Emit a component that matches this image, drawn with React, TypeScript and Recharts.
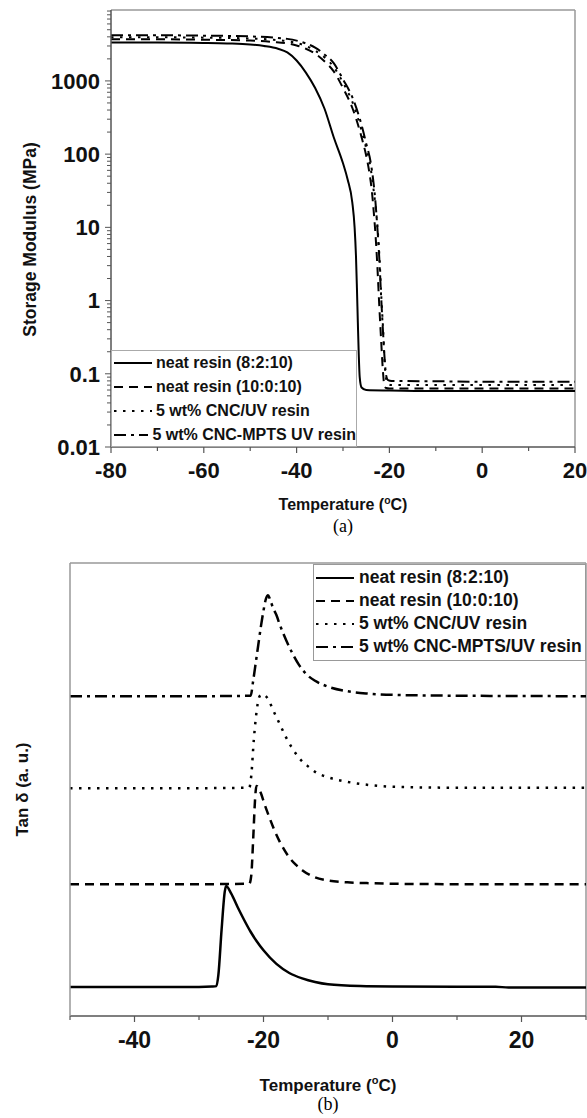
import React from 'react';
import { LineChart, Line, XAxis, YAxis, ReferenceLine, Legend } from 'recharts';

// ---- (a) storage modulus, MPa vs temperature ----
const solidT = [-80, -70, -60, -55, -50, -47, -44, -42, -40, -38, -36, -34, -32, -30, -29, -28, -27.5, -27.2, -27, -26.8, -26.6, -26.4, -26, -25, -20, -10, 0, 10, 20];
const solidE = [3350, 3350, 3300, 3250, 3150, 3000, 2750, 2450, 1900, 1300, 800, 420, 170, 75, 45, 22, 10, 4, 1.5, 0.5, 0.18, 0.09, 0.065, 0.06, 0.059, 0.058, 0.058, 0.058, 0.058];

const dashedT = [-80, -70, -60, -50, -45, -42, -40, -38, -36, -34, -32, -30, -28, -26, -25, -24.3, -23.8, -23.4, -23, -22.6, -22.2, -21.8, -21.4, -21.1, -20.7, -20, -10, 0, 10, 20];
const dashedE = [3700, 3700, 3650, 3550, 3400, 3250, 3050, 2750, 2350, 1850, 1350, 800, 430, 170, 95, 55, 32, 17, 8, 3, 0.9, 0.3, 0.11, 0.07, 0.064, 0.063, 0.063, 0.063, 0.063, 0.063];

const dottedT = [-80, -70, -60, -50, -45, -42, -40, -38, -36, -34, -32, -30, -28, -26, -25, -24, -23.5, -23, -22.5, -22.1, -21.7, -21.3, -21, -20.7, -20.3, -19.5, -10, 0, 10, 20];
const dottedE = [3950, 3950, 3900, 3800, 3650, 3500, 3300, 3000, 2600, 2100, 1550, 950, 520, 210, 120, 62, 36, 20, 9, 3.5, 1, 0.35, 0.13, 0.085, 0.072, 0.07, 0.07, 0.07, 0.07, 0.07];

const dashDotT = [-80, -70, -60, -50, -45, -42, -40, -38, -36, -34, -32, -30, -28, -26, -25, -24, -23.5, -23, -22.6, -22.2, -21.8, -21.4, -21, -20.7, -20.3, -19.5, -10, 0, 10, 20];
const dashDotE = [4200, 4200, 4150, 4050, 3900, 3750, 3550, 3250, 2850, 2300, 1750, 1050, 600, 250, 140, 75, 45, 22, 10, 4, 1.2, 0.4, 0.15, 0.095, 0.082, 0.08, 0.079, 0.078, 0.078, 0.078];

const modTicksX = [-80, -70, -60, -50, -40, -30, -20, -10, 0, 10, 20];
const modLabelsX = [-80, -60, -40, -20, 0, 20];
const modDecades = [0.01, 0.1, 1, 10, 100, 1000];
const modDecadeLabels = ['0.01', '0.1', '1', '10', '100', '1000'];
const minorSteps = [2, 3, 4, 5, 6, 7, 8, 9];

// ---- (b) tan delta, arbitrary units, curves stacked ----
const tSolidT = [-50, -40, -30, -28, -27.3, -27, -26.5, -26, -25.8, -25, -24, -23, -22, -21, -20, -18, -16, -14, -12, -10, -5, 0, 10, 16, 18, 30];
const tSolidV = [0.64, 0.64, 0.64, 0.65, 0.66, 0.9, 1.9, 2.75, 2.87, 2.7, 2.4, 2.12, 1.86, 1.64, 1.45, 1.15, 0.95, 0.83, 0.75, 0.7, 0.66, 0.65, 0.645, 0.645, 0.63, 0.63];

const tDashedT = [-50, -30, -22.2, -21.9, -21.6, -21.3, -21.1, -20.5, -19.8, -19, -18, -17, -16, -15, -14, -12, -10, -7, -3, 0, 10, 30];
const tDashedV = [2.91, 2.91, 2.92, 3.1, 3.9, 4.8, 5.08, 4.95, 4.66, 4.35, 4.0, 3.72, 3.5, 3.34, 3.22, 3.06, 2.99, 2.95, 2.93, 2.92, 2.91, 2.91];

const tDottedT = [-50, -30, -22.2, -21.9, -21.5, -21, -20.6, -20.2, -19.3, -18.5, -17.5, -16.5, -15.5, -14.5, -13, -12, -10, -7, -3, 0, 10, 30];
const tDottedV = [5.03, 5.03, 5.04, 5.3, 6.1, 6.8, 7.06, 7.1, 7.0, 6.75, 6.45, 6.15, 5.9, 5.7, 5.5, 5.39, 5.27, 5.17, 5.09, 5.06, 5.04, 5.04];

const tDashDotT = [-50, -30, -22, -21.6, -21.2, -20.8, -20.4, -20, -19.6, -19.3, -19, -18.5, -18, -17.5, -16.5, -15.5, -14.5, -13, -12, -10, -7, -4, 0, 10, 30];
const tDashDotV = [7.06, 7.06, 7.07, 7.4, 7.8, 8.2, 8.6, 8.95, 9.22, 9.29, 9.2, 9.0, 8.85, 8.65, 8.3, 8.0, 7.75, 7.5, 7.4, 7.27, 7.17, 7.12, 7.09, 7.07, 7.06];

const tanTicksX = [-50, -40, -30, -20, -10, 0, 10, 20, 30];
const tanLabelsX = [-40, -20, 0, 20];

const namesA = ['neat resin (8:2:10)', 'neat resin (10:0:10)', '5 wt% CNC/UV resin', '5 wt% CNC-MPTS UV resin'];
const namesB = ['neat resin (8:2:10)', 'neat resin (10:0:10)', '5 wt% CNC/UV resin', '5 wt% CNC-MPTS/UV resin'];
const dashes = [undefined, '9 6', '2.5 6.5', '12 5 3 5'];

const zip = (t: number[], v: number[]) => t.map((x, i) => ({ t: x, v: v[i] }));

const modSeries = [zip(solidT, solidE), zip(dashedT, dashedE), zip(dottedT, dottedE), zip(dashDotT, dashDotE)];
const tanSeries = [zip(tSolidT, tSolidV), zip(tDashedT, tDashedV), zip(tDottedT, tDottedV), zip(tDashDotT, tDashDotV)];

const modTicksY = [...modDecades, ...modDecades.flatMap(d => minorSteps.map(m => +(d * m).toPrecision(3)))];

const FONT = '"Liberation Sans", Arial, sans-serif';
const AXIS = '#555';
const FRAME = '#999';

const makeXTick = (labels: number[], fontSize: number) => (props: any) => {
  const { x, y, payload } = props;
  const major = labels.includes(payload.value);
  return (
    <g>
      <line x1={x} x2={x} y1={y} y2={y + (major ? 6 : 4)} stroke={AXIS} strokeWidth={1.2} />
      {major && (
        <text x={x} y={y + 15} dy="0.72em" textAnchor="middle" fontFamily={FONT} fontWeight="bold" fontSize={fontSize} fill="#111">
          {payload.value}
        </text>
      )}
    </g>
  );
};

const LogYTick = (props: any) => {
  const { x, y, payload } = props;
  const idx = modDecades.indexOf(payload.value);
  const major = idx >= 0;
  return (
    <g>
      <line x1={x} x2={x - (major ? 6 : 4)} y1={y} y2={y} stroke={AXIS} strokeWidth={1} />
      {major && (
        <text x={x - 11} y={y} dy="0.36em" textAnchor="end" fontFamily={FONT} fontWeight="bold" fontSize={22} fill="#111">
          {modDecadeLabels[idx]}
        </text>
      )}
    </g>
  );
};

const tempTitle = (dy: number, fontSize: number) => (props: any) => {
  const vb = props.viewBox;
  return (
    <text x={vb.x + vb.width / 2} y={vb.y + dy} textAnchor="middle" fontFamily={FONT} fontWeight="bold" fontSize={fontSize} fill="#111">
      Temperature (<tspan fontSize={fontSize * 0.65} dy={-fontSize * 0.4}>o</tspan>
      <tspan dy={fontSize * 0.4}>C)</tspan>
    </text>
  );
};

const yTitle = (text: string, cx: number, dyc: number, fontSize: number) => (props: any) => {
  const vb = props.viewBox;
  const cy = vb.y + vb.height / 2 + dyc;
  return (
    <text x={cx} y={cy} transform={`rotate(-90 ${cx} ${cy})`} textAnchor="middle" dominantBaseline="central" fontFamily={FONT} fontWeight="bold" fontSize={fontSize} fill="#111">
      {text}
    </text>
  );
};

const legendBox = (names: string[], fontSize: number, rowH: number, padTop: number, gap: number) => () => (
  <div style={{ paddingTop: padTop }}>
    {names.map((n, i) => (
      <div key={n} style={{ display: 'flex', alignItems: 'center', height: rowH }}>
        <svg width={38} height={8} style={{ marginLeft: 2 }}>
          <line x1={0} x2={38} y1={4} y2={4} stroke="#000" strokeWidth={2.2} strokeDasharray={dashes[i]} />
        </svg>
        <span style={{ marginLeft: gap, fontFamily: FONT, fontWeight: 'bold', fontSize, color: '#111', whiteSpace: 'nowrap' }}>{n}</span>
      </div>
    ))}
  </div>
);

export default function App() {
  return (
    <div style={{ position: 'absolute', left: 0, top: 0, width: 587, height: 1118, background: '#fff' }}>
      <div style={{ position: 'absolute', left: 0, top: 0 }}>
        <LineChart width={587} height={545} margin={{ top: 10, right: 12, left: 51, bottom: 28 }}>
          <XAxis
            dataKey="t"
            type="number"
            domain={[-80, 20]}
            ticks={modTicksX}
            interval={0}
            allowDataOverflow
            height={70}
            tickSize={0}
            tickMargin={0}
            tickLine={false}
            axisLine={{ stroke: AXIS, strokeWidth: 1.5 }}
            tick={makeXTick(modLabelsX, 22)}
            label={tempTitle(63, 16)}
          />
          <YAxis
            type="number"
            scale="log"
            domain={[0.01, 9300]}
            ticks={modTicksY}
            interval={0}
            allowDataOverflow
            width={60}
            tickSize={0}
            tickMargin={0}
            tickLine={false}
            axisLine={{ stroke: AXIS, strokeWidth: 1.5 }}
            tick={LogYTick}
            label={yTitle('Storage Modulus (MPa)', 30, 11, 17.5)}
          />
          <ReferenceLine y={9300} stroke={FRAME} strokeWidth={1.5} />
          <ReferenceLine x={20} stroke={FRAME} strokeWidth={1.5} />
          <Legend
            layout="vertical"
            align="center"
            verticalAlign="middle"
            content={legendBox(namesA, 16, 24, 0, 4)}
            wrapperStyle={{ position: 'absolute', left: 111, top: 350, width: 246, height: 97, border: '1px solid #aaa', borderRight: '1.5px solid #aaa', background: '#fff', boxSizing: 'border-box' }}
          />
          {modSeries.map((d, i) => (
            <Line key={i} data={d} dataKey="v" type="monotone" stroke="#000" strokeWidth={2} strokeDasharray={dashes[i]} dot={false} activeDot={false} isAnimationActive={false} />
          ))}
        </LineChart>
      </div>
      <div style={{ position: 'absolute', left: 111, top: 516, width: 464, textAlign: 'center', fontFamily: '"Liberation Serif", "Times New Roman", serif', fontSize: 18 }}>(a)</div>

      <div style={{ position: 'absolute', left: 0, top: 545 }}>
        <LineChart width={587} height={573} margin={{ top: 18, right: 1, left: 0, bottom: 52 }}>
          <XAxis
            dataKey="t"
            type="number"
            domain={[-50, 30]}
            ticks={tanTicksX}
            interval={0}
            allowDataOverflow
            height={50}
            tickSize={0}
            tickMargin={0}
            tickLine={false}
            axisLine={{ stroke: AXIS, strokeWidth: 1.5 }}
            tick={makeXTick(tanLabelsX, 23)}
            label={tempTitle(75, 17)}
          />
          <YAxis
            type="number"
            domain={[0, 10]}
            allowDataOverflow
            width={70}
            tick={false}
            tickLine={false}
            axisLine={{ stroke: FRAME, strokeWidth: 1.5 }}
            label={yTitle('Tan \u03b4 (a. u.)', 22, 0, 17)}
          />
          <ReferenceLine y={10} stroke={FRAME} strokeWidth={1.5} />
          <ReferenceLine x={30} stroke={FRAME} strokeWidth={1.5} />
          <Legend
            layout="vertical"
            align="center"
            verticalAlign="middle"
            content={legendBox(namesB, 17.5, 23, 1, 5)}
            wrapperStyle={{ position: 'absolute', left: 313, top: 19, width: 273, height: 97, border: '1.5px solid #999', background: '#fff', boxSizing: 'border-box' }}
          />
          {tanSeries.map((d, i) => (
            <Line key={i} data={d} dataKey="v" type="monotone" stroke="#000" strokeWidth={2.5} strokeDasharray={dashes[i]} dot={false} activeDot={false} isAnimationActive={false} />
          ))}
        </LineChart>
      </div>
      <div style={{ position: 'absolute', left: 70, top: 1094, width: 516, textAlign: 'center', fontFamily: '"Liberation Serif", "Times New Roman", serif', fontSize: 18 }}>(b)</div>
    </div>
  );
}
